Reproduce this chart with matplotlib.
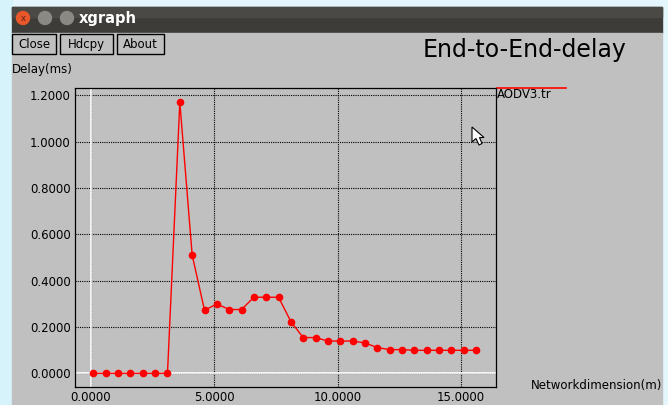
import matplotlib
matplotlib.use('Agg')
import matplotlib.pyplot as plt
from matplotlib.patches import Rectangle, Circle, Polygon

# data
network_dim = [0.1, 0.6, 1.1, 1.6, 2.1, 2.6, 3.1, 3.6, 4.1, 4.6, 5.1, 5.6,
               6.1, 6.6, 7.1, 7.6, 8.1, 8.6, 9.1, 9.6, 10.1, 10.6, 11.1, 11.6,
               12.1, 12.6, 13.1, 13.6, 14.1, 14.6, 15.1, 15.6]
delay = [0.0, 0.0, 0.0, 0.0, 0.0, 0.0, 0.0, 1.17, 0.51, 0.272, 0.299, 0.275,
         0.275, 0.328, 0.328, 0.328, 0.223, 0.154, 0.154, 0.139, 0.139, 0.139,
         0.131, 0.111, 0.102, 0.102, 0.099, 0.099, 0.099, 0.099, 0.099, 0.099]
x_ticks = [0, 5, 10, 15]
y_ticks = [0.0, 0.2, 0.4, 0.6, 0.8, 1.0, 1.2]
series_name = 'AODV3.tr'

W, H = 668, 405
GRAY = '#c0c0c0'
fig = plt.figure(figsize=(W / 100, H / 100), dpi=100, facecolor='#e4f6fb')

# pixel-space overlay for the window chrome
bg = fig.add_axes([0, 0, 1, 1])
bg.set_xlim(0, W)
bg.set_ylim(H, 0)
bg.axis('off')
bg.add_patch(Rectangle((0, 0), 12, H, color='#d6f3fb'))
bg.add_patch(Rectangle((12, 7), 650, 26, color='#3d3c38'))
bg.add_patch(Rectangle((12, 7), 650, 10, color='#4a4945'))
bg.add_patch(Rectangle((12, 33), 650, H - 33, color=GRAY))
bg.add_patch(Circle((23, 18), 6.5, color='#e8572a'))
bg.text(23, 18.5, 'x', color='#5a2010', fontsize=6, ha='center', va='center')
bg.add_patch(Circle((45, 18), 6.5, color='#8a8984'))
bg.add_patch(Circle((67, 18), 6.5, color='#8a8984'))
bg.text(79, 18, 'xgraph', color='white', fontsize=10.5, fontweight='bold',
        ha='left', va='center')

for label, x0, x1 in [('Close', 12, 56), ('Hdcpy', 60, 113), ('About', 117, 164)]:
    bg.add_patch(Rectangle((x0, 34), x1 - x0, 20, fill=False, ec='black', lw=1))
    bg.text((x0 + x1) / 2, 44.5, label, fontsize=8.5, ha='center', va='center')

bg.text(525, 50, 'End-to-End-delay', fontsize=17, ha='center', va='center')
bg.text(12, 69, 'Delay(ms)', fontsize=8.5, ha='left', va='center')
bg.text(662, 385, 'Networkdimension(m)', fontsize=8.5, ha='right', va='center')
bg.plot([497, 566], [88, 88], color='red', lw=1.2)
bg.text(497, 95, series_name, fontsize=8.5, ha='left', va='center')

# plot area
ax = fig.add_axes([74.7 / W, 1 - 386.7 / H, 421 / W, 298.7 / H])
ax.set_facecolor(GRAY)
ax.set_xlim(-0.66, 16.4)
ax.set_ylim(-0.058, 1.231)
for s in ax.spines.values():
    s.set_linestyle((0, (1, 1)))
    s.set_linewidth(0.9)
ax.set_xticks(x_ticks)
ax.set_yticks(y_ticks)
ax.set_xticklabels(['%.4f' % v for v in x_ticks])
ax.set_yticklabels(['%.4f' % v for v in y_ticks])
ax.tick_params(length=0, labelsize=8.5, pad=3)
ax.grid(True, color='black', linestyle=(0, (1, 1)), linewidth=0.8)
ax.axhline(0, color='white', lw=1.2, zorder=2)
ax.axvline(0, color='white', lw=1.2, zorder=2)
ax.plot(network_dim, delay, color='red', lw=1, marker='o', markersize=4.5,
        zorder=3)

# mouse pointer left in the screenshot, on top of everything
top = fig.add_axes([0, 0, 1, 1])
top.set_xlim(0, W)
top.set_ylim(H, 0)
top.axis('off')
top.patch.set_alpha(0)
top.add_patch(Polygon([(472, 127), (472, 142), (476, 138.5), (479, 145),
                       (482, 143.5), (479.5, 137.5), (484, 137.5)],
                      closed=True, fc='white', ec='black', lw=0.8))

fig.savefig('out.png', dpi=100, facecolor=fig.get_facecolor())
